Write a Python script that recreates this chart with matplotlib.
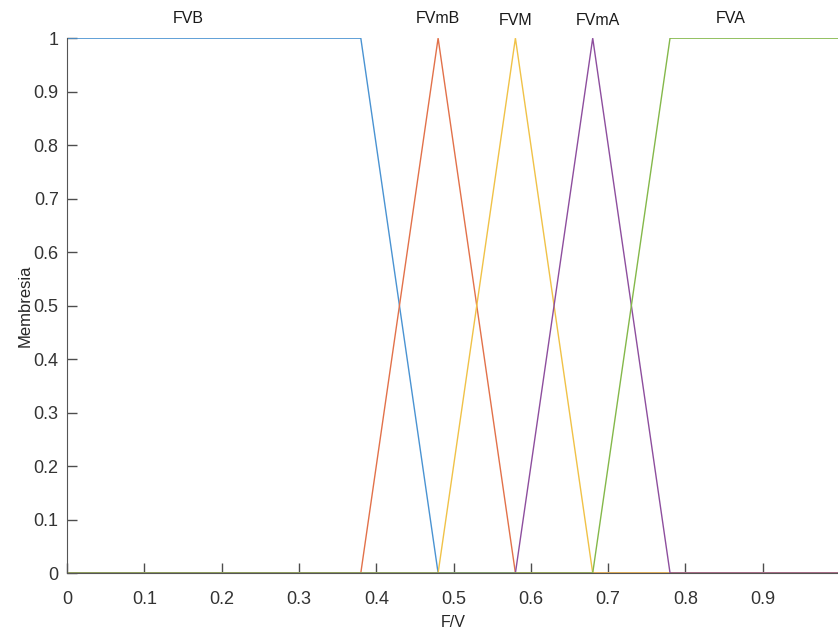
import numpy as np
import matplotlib
matplotlib.use("Agg")
import matplotlib.pyplot as plt

plt.rcParams['font.family'] = ['Liberation Sans', 'DejaVu Sans']

# Membership functions for the F/V variable
names = ["FVB", "FVmB", "FVM", "FVmA", "FVA"]
# trapezoid breakpoints (a, b, c, d); triangles have b == c
fvb_params = [0.0, 0.0, 0.38, 0.48]
fvmb_params = [0.38, 0.48, 0.48, 0.58]
fvm_params = [0.48, 0.58, 0.58, 0.68]
fvma_params = [0.58, 0.68, 0.68, 0.78]
fva_params = [0.68, 0.78, 1.0, 1.0]
all_params = [fvb_params, fvmb_params, fvm_params, fvma_params, fva_params]
label_x = [0.157, 0.48, 0.58, 0.687, 0.858]
label_y = [1.037, 1.037, 1.033, 1.033, 1.037]
tick_vals = [0.0, 0.1, 0.2, 0.3, 0.4, 0.5, 0.6, 0.7, 0.8, 0.9, 1.0]
tick_text = ["0", "0.1", "0.2", "0.3", "0.4", "0.5", "0.6", "0.7", "0.8", "0.9", "1"]

colors = ["#4a93d2", "#e2714a", "#f0c247", "#8d4e9e", "#84b84a"]

x = np.linspace(0, 1, 501)


def trap(xv, p):
    a, b, c, d = p
    y = np.zeros_like(xv)
    up = (xv > a) & (xv < b)
    y[up] = (xv[up] - a) / (b - a)
    y[(xv >= b) & (xv <= c)] = 1.0
    dn = (xv > c) & (xv < d)
    y[dn] = (d - xv[dn]) / (d - c)
    return y


fig = plt.figure(figsize=(8.38, 6.36), dpi=100)
ax = fig.add_axes([0.08, 0.099, 0.9225, 0.841])

for p, col in zip(all_params, colors):
    ax.plot(x, trap(x, p), color=col, lw=1.0, solid_joinstyle="miter")

for n, lx, ly in zip(names, label_x, label_y):
    ax.text(lx, ly, n, ha="center", va="center", fontsize=11.5, color="#1a1a1a")

ax.set_xlim(0, 1)
ax.set_ylim(0, 1)
ax.set_xticks(tick_vals)
# the x = 1 label falls past the right edge of the canvas
ax.set_xticklabels(tick_text[:-1] + [""])
ax.set_yticks(tick_vals)
ax.set_yticklabels(tick_text)
ax.tick_params(direction="in", length=7, width=1, colors="#4d4d4d", labelsize=13,
               labelcolor="#333333")
ax.tick_params(axis="x", pad=13)
ax.tick_params(axis="y", pad=6)
for s in ["top", "right"]:
    ax.spines[s].set_visible(False)
for s in ["left", "bottom"]:
    ax.spines[s].set_color("#555555")

ax.set_xlabel("F/V", fontsize=11.5, color="#262626", labelpad=5)
ax.set_ylabel("Membresia", fontsize=12, color="#262626", labelpad=1)

fig.savefig("out.png", dpi=100)
